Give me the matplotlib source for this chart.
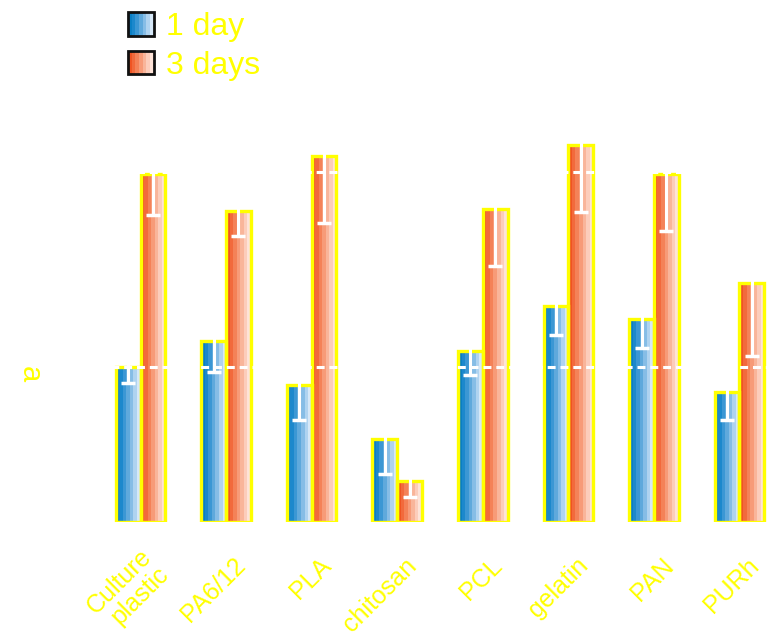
import matplotlib
matplotlib.use('Agg')
import matplotlib.pyplot as plt
import matplotlib.transforms as mtransforms
from matplotlib.patches import Rectangle, Patch
from matplotlib.legend_handler import HandlerBase
import numpy as np

# data (relative to culture plastic, 1 day)
materials = ['Culture\nplastic', 'PA6/12', 'PLA', 'chitosan', 'PCL', 'gelatin', 'PAN', 'PURh']
day1 = [1.00, 1.168, 0.883, 0.534, 1.104, 1.395, 1.309, 0.840]
day1_err = [0.104, 0.20, 0.227, 0.227, 0.155, 0.19, 0.188, 0.185]
day3 = [2.246, 2.01, 2.368, 0.264, 2.023, 2.439, 2.247, 1.542]
day3_err = [0.265, 0.164, 0.438, 0.104, 0.371, 0.438, 0.369, 0.472]
ref_lines = [1.0, 2.262]
series_names = ['1 day', '3 days']

blues = ['#0a7fc4', '#1c88cc', '#3b97d4', '#5fa9dc', '#86bde6', '#afd3f0', '#d6e8f8']
oranges = ['#ef5423', '#f26a3c', '#f48258', '#f79b78', '#f9b59a', '#fccdbb', '#fee3d8']
YEL = '#ffff00'

W, H = 769, 638
fig = plt.figure(figsize=(W / 100, H / 100), dpi=100)

# axes placed so that bars land where the reference has them
x_lo, x_hi = -0.5, 7.35
px_per_unit = 85.57
left_px = 140.5 - 0.5 * px_per_unit
right_px = left_px + (x_hi - x_lo) * px_per_unit
base_px = 521.5
y_hi = 3.0
top_px = base_px - y_hi * 154.5
ax = fig.add_axes([left_px / W, 1 - base_px / H, (right_px - left_px) / W, (base_px - top_px) / H])
ax.set_xlim(x_lo, x_hi)
ax.set_ylim(0, y_hi)

x = np.arange(len(materials))
w = 0.29


def striped_bars(xleft, vals, colors):
    n = len(colors)
    for k, c in enumerate(colors):
        ax.bar(xleft + k * w / n, vals, width=w / n, align='edge', color=c, lw=0, zorder=2)
    ax.bar(xleft, vals, width=w, align='edge', fill=False, edgecolor=YEL, lw=2.4, zorder=3)


striped_bars(x - w, day1, blues)
striped_bars(x, day3, oranges)

ax.errorbar(x - w / 2, day1, yerr=day1_err, fmt='none', ecolor='white',
            elinewidth=2.2, capsize=5, capthick=2.5, zorder=4)
ax.errorbar(x + w / 2, day3, yerr=day3_err, fmt='none', ecolor='white',
            elinewidth=2.2, capsize=5, capthick=2.5, zorder=4)

for r in ref_lines:
    ax.axhline(r, color='white', lw=2.2, dashes=(2.6, 1.6), zorder=5)

for s in ax.spines.values():
    s.set_visible(False)
ax.set_yticks([])
ax.set_xticks(x)
ax.set_xticklabels(materials, rotation=45, ha='right', va='center', rotation_mode='anchor',
                   color=YEL, fontsize=18, family='Liberation Sans', linespacing=1.0)
ax.tick_params(axis='x', length=0, pad=29)
offset = mtransforms.ScaledTranslation(0.16, 0, fig.dpi_scale_trans)
for lbl in ax.get_xticklabels():
    lbl.set_transform(lbl.get_transform() + offset)

fig.text(30 / W, 1 - 374 / H, 'a', rotation=270, color=YEL, fontsize=21,
         ha='center', va='center', family='Liberation Sans')


class StripeHandler(HandlerBase):
    def __init__(self, colors):
        super().__init__()
        self.colors = colors

    def create_artists(self, legend, orig_handle, xdescent, ydescent, width, height, fontsize, trans):
        n = len(self.colors)
        arts = []
        for i, c in enumerate(self.colors):
            arts.append(Rectangle((-xdescent + i * width / n, -ydescent), width / n, height,
                                  facecolor=c, edgecolor='none', transform=trans))
        arts.append(Rectangle((-xdescent, -ydescent), width, height, facecolor='none',
                              edgecolor='#111111', lw=2, transform=trans))
        return arts


h1, h2 = Patch(), Patch()
leg = fig.legend([h1, h2], series_names, loc='upper left', bbox_to_anchor=(128 / W, 1 - 12 / H),
                 frameon=False, handlelength=0.8, handleheight=0.75,
                 handletextpad=0.4, labelspacing=0.27, borderpad=0, borderaxespad=0,
                 prop={'family': 'Liberation Sans', 'size': 23},
                 handler_map={h1: StripeHandler(blues), h2: StripeHandler(oranges)})
for t in leg.get_texts():
    t.set_color(YEL)

fig.savefig('out.png', dpi=100)
